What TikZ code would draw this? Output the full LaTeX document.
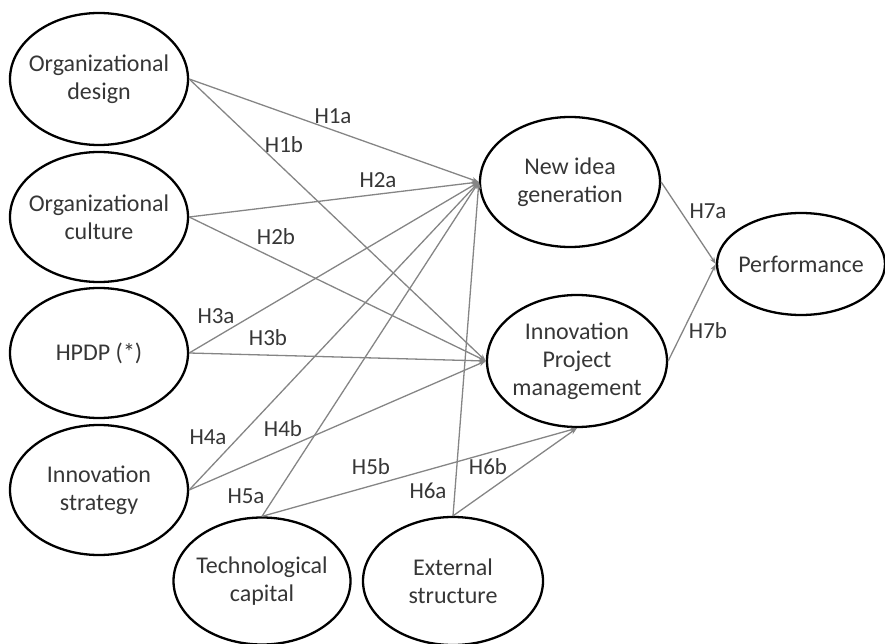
\documentclass[tikz,border=0pt]{standalone}
\usepackage{fontspec}
\setmainfont{Carlito}
\usetikzlibrary{shapes.geometric,arrows.meta}
\definecolor{txt}{HTML}{363636}
\definecolor{link}{HTML}{858585}
\begin{document}
\begin{tikzpicture}[x=1pt,y=-1pt,
  construct/.style={draw=black,line width=2.3pt,ellipse,inner sep=-40pt,
    align=center,text=txt,font=\fontsize{24}{28}\selectfont},
  hyp/.style={text=txt,font=\fontsize{23}{26}\selectfont,inner sep=0pt},
  link/.style={draw=link,line width=1.3pt,
    -{Stealth[length=7pt,width=5pt]}}]
\useasboundingbox (0,0) rectangle (885,644);

% exogenous constructs on the left
\node[construct,minimum width=178pt,minimum height=132pt] (od) at (99,79) {Organizational\\design};
\node[construct,minimum width=178pt,minimum height=130pt] (oc) at (99,217) {Organizational\\culture};
\node[construct,minimum width=178pt,minimum height=130pt] (hpdp) at (99,353) {HPDP (*)};
\node[construct,minimum width=178pt,minimum height=130pt] (is) at (99,490) {Innovation\\strategy};
% exogenous constructs at the bottom
\node[construct,minimum width=177pt,minimum height=127pt] (tc) at (262,581) {Technological\\capital};
\node[construct,minimum width=180pt,minimum height=128pt] (es) at (453,581) {External\\structure};
% mediators and outcome
\node[construct,minimum width=180pt,minimum height=130pt] (nig) at (570,182) {New idea\\generation};
\node[construct,minimum width=180pt,minimum height=132pt] (ipm) at (577,361) {Innovation\\Project\\management};
\node[construct,minimum width=168pt,minimum height=102pt] (perf) at (801,264) {Performance};

% hypothesised paths
\draw[link] (od.east) -- (nig.west);
\draw[link] (od.east) -- (ipm.west);
\draw[link] (oc.east) -- (nig.west);
\draw[link] (oc.east) -- (ipm.west);
\draw[link] (hpdp.east) -- (nig.west);
\draw[link] (hpdp.east) -- (ipm.west);
\draw[link] (is.east) -- (nig.west);
\draw[link] (is.east) -- (ipm.west);
\draw[link] (tc.north) -- (nig.west);
\draw[link] (tc.north) -- (ipm.south);
\draw[link] (es.north) -- (nig.west);
\draw[link] (es.north) -- (ipm.south);
\draw[link] (nig.east) -- (perf.west);
\draw[link] (ipm.east) -- (perf.west);

% hypothesis labels
\node[hyp] (h1a) at (333,116) {H1a};
\node[hyp] (h1b) at (284,145) {H1b};
\node[hyp] (h2a) at (378,180) {H2a};
\node[hyp] (h2b) at (276,237) {H2b};
\node[hyp] (h3a) at (216,316) {H3a};
\node[hyp] (h3b) at (268,338) {H3b};
\node[hyp] (h4a) at (208,437) {H4a};
\node[hyp] (h4b) at (283,429) {H4b};
\node[hyp] (h5a) at (246,496) {H5a};
\node[hyp] (h5b) at (371,467) {H5b};
\node[hyp] (h6a) at (428,491) {H6a};
\node[hyp] (h6b) at (488,467) {H6b};
\node[hyp] (h7a) at (708,211) {H7a};
\node[hyp] (h7b) at (708,331) {H7b};
\end{tikzpicture}
\end{document}
